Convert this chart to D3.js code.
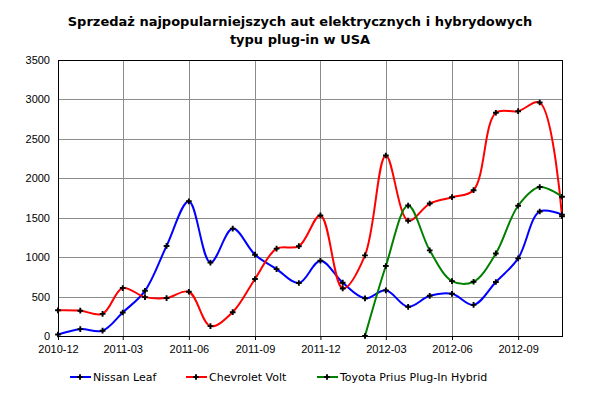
<!DOCTYPE html>
<html>
<head>
<meta charset="utf-8">
<script src="https://cdn.jsdelivr.net/npm/d3@7.9.0/dist/d3.min.js"></script>
<style>
  body { margin: 0; background: #fff; }
  svg { display: block; font-family: "DejaVu Sans", Verdana, sans-serif; }
</style>
</head>
<body>
<div id="chart"></div>
<script>
// monthly sales, 2010-12 .. 2012-11
const months = ["2010-12", "2011-01", "2011-02", "2011-03", "2011-04", "2011-05", "2011-06",
    "2011-07", "2011-08", "2011-09", "2011-10", "2011-11", "2011-12", "2012-01", "2012-02",
    "2012-03", "2012-04", "2012-05", "2012-06", "2012-07", "2012-08", "2012-09", "2012-10", "2012-11"];

const nissanLeaf = [19, 87, 67, 298, 573, 1142, 1708, 931, 1362, 1031, 848, 672, 954,
    676, 478, 579, 370, 510, 535, 395, 685, 984, 1579, 1539];
const chevroletVolt = [326, 321, 281, 608, 493, 481, 561, 125, 302, 723, 1108, 1139, 1529,
    603, 1023, 2289, 1462, 1680, 1760, 1849, 2831, 2851, 2961, 1519];
// Prius Plug-In starts in 2012-02
const priusMonths = ["2012-02", "2012-03", "2012-04", "2012-05", "2012-06", "2012-07",
    "2012-08", "2012-09", "2012-10", "2012-11"];
const priusPlugIn = [0, 888, 1654, 1086, 696, 688, 1047, 1652, 1889, 1766];

const yTicks = [0, 500, 1000, 1500, 2000, 2500, 3000, 3500];
const xTicks = ["2010-12", "2011-03", "2011-06", "2011-09", "2011-12", "2012-03", "2012-06", "2012-09"];

const series = [
    { name: "Nissan Leaf", color: "#0000ff", months: months, values: nissanLeaf },
    { name: "Chevrolet Volt", color: "#ff0000", months: months, values: chevroletVolt },
    { name: "Toyota Prius Plug-In Hybrid", color: "#008000", months: priusMonths, values: priusPlugIn }
];

const parseMonth = d3.timeParse("%Y-%m");
const width = 600, height = 397;
const margin = { top: 60, right: 38, bottom: 61, left: 58 };
const innerW = width - margin.left - margin.right;
const innerH = height - margin.top - margin.bottom;

const svg = d3.select("#chart").append("svg")
    .attr("width", width)
    .attr("height", height);

svg.append("text")
    .attr("x", width / 2)
    .attr("y", 26)
    .attr("text-anchor", "middle")
    .style("font-size", "13px")
    .style("font-weight", "bold")
    .text("Sprzedaż najpopularniejszych aut elektrycznych i hybrydowych");
svg.append("text")
    .attr("x", width / 2)
    .attr("y", 44)
    .attr("text-anchor", "middle")
    .style("font-size", "13px")
    .style("font-weight", "bold")
    .text("typu plug-in w USA");

const g = svg.append("g").attr("transform", `translate(${margin.left},${margin.top})`);

const x = d3.scaleTime()
    .domain([parseMonth(months[0]), parseMonth(months[months.length - 1])])
    .range([0, innerW]);
const y = d3.scaleLinear().domain([0, 3500]).range([innerH, 0]);

// grid
g.append("g").selectAll("line").data(yTicks.slice(1)).join("line")
    .attr("x1", 0).attr("x2", innerW)
    .attr("y1", d => Math.round(y(d)) + 0.5).attr("y2", d => Math.round(y(d)) + 0.5)
    .attr("stroke", "#8c8c8c");
g.append("g").selectAll("line").data(xTicks.slice(1)).join("line")
    .attr("x1", d => Math.round(x(parseMonth(d))) + 0.5).attr("x2", d => Math.round(x(parseMonth(d))) + 0.5)
    .attr("y1", 0).attr("y2", innerH)
    .attr("stroke", "#8c8c8c");

// axes
const yAxis = g.append("g")
    .call(d3.axisLeft(y).tickValues(yTicks).tickSize(0).tickPadding(8).tickFormat(d3.format("d")));
yAxis.select(".domain").remove();
yAxis.selectAll("text").style("font-size", "11px").attr("fill", "#000");

const xAxis = g.append("g")
    .attr("transform", `translate(0,${innerH})`)
    .call(d3.axisBottom(x).tickValues(xTicks.map(parseMonth)).tickSize(4)
        .tickFormat(d3.timeFormat("%Y-%m")).tickPadding(5));
xAxis.select(".domain").remove();
xAxis.selectAll("line").attr("stroke", "#000");
xAxis.selectAll("text").style("font-size", "11px").attr("fill", "#000");

// frame
g.append("rect")
    .attr("x", 0.5).attr("y", 0.5)
    .attr("width", innerW).attr("height", innerH)
    .attr("fill", "none").attr("stroke", "#000");

const line = d3.line()
    .x(d => x(d.date))
    .y(d => y(d.value))
    .curve(d3.curveCatmullRom.alpha(0.5));

const marker = d3.symbol().type(d3.symbolCross).size(18);

series.forEach(s => {
    const pts = s.values.map((v, i) => ({ date: parseMonth(s.months[i]), value: v }));
    g.append("path")
        .datum(pts)
        .attr("fill", "none")
        .attr("stroke", s.color)
        .attr("stroke-width", 2)
        .attr("d", line);
    s.pts = pts;
});
series.forEach(s => {
    g.append("g").selectAll("path").data(s.pts).join("path")
        .attr("transform", d => `translate(${x(d.date)},${y(d.value)})`)
        .attr("d", marker)
        .attr("fill", "#000");
});

// legend
const legendX = [70, 186, 317];
const legend = svg.append("g").attr("transform", "translate(0,377)");
series.forEach((s, i) => {
    const lg = legend.append("g").attr("transform", `translate(${legendX[i]},0)`);
    lg.append("line").attr("x1", 0).attr("x2", 21).attr("y1", 0).attr("y2", 0)
        .attr("stroke", s.color).attr("stroke-width", 2);
    lg.append("path").attr("transform", "translate(10,0)").attr("d", marker).attr("fill", "#000");
    lg.append("text").attr("x", 23).attr("y", 0).attr("dy", "0.35em")
        .style("font-size", "11px").text(s.name);
});
</script>
</body>
</html>
